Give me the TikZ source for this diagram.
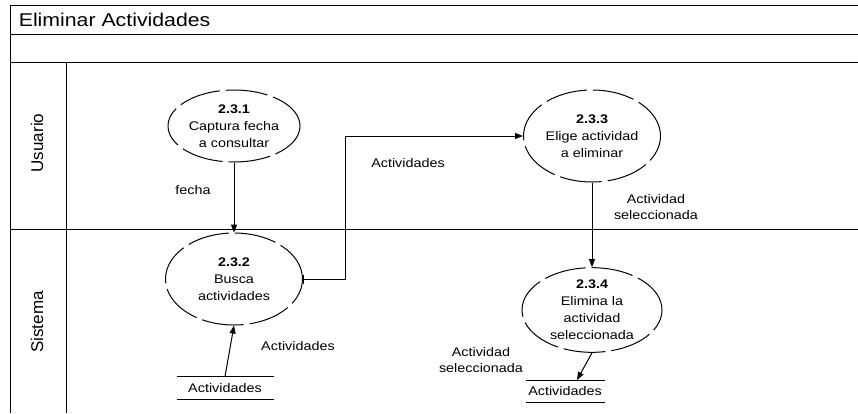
\documentclass[tikz,border=0pt]{standalone}
\usepackage{fontspec}
\setmainfont{Liberation Sans}[FakeStretch=1.15]
\newfontfamily\lanefont{Liberation Sans}
\usetikzlibrary{shapes,arrows.meta}

\begin{document}
\begin{tikzpicture}[x=1pt,y=-1pt,line width=1pt,>={Triangle[length=8pt,width=6pt]}]
\tikzstyle{proceso}=[ellipse,draw,dash pattern=on 42pt off 6pt,inner sep=0pt,align=center,font=\fontsize{12.5}{17}\selectfont]
\tikzstyle{etiqueta}=[align=center,font=\fontsize{12.5}{16}\selectfont]
\tikzstyle{almacen}=[minimum width=96pt,minimum height=22pt,inner sep=0pt,font=\fontsize{12.5}{14}\selectfont]
\tikzstyle{carril}=[rotate=90,font=\lanefont\fontsize{17}{19}\selectfont]
\useasboundingbox (0,0) rectangle (858,413);

% marco y carriles
\draw (10,413) -- (10,5) -- (858,5)
      (10,34) -- (858,34)
      (10,62) -- (858,62)
      (10,229) -- (858,229)
      (66,62) -- (66,413);

\node[font=\fontsize{18.5}{20}\selectfont,anchor=west](titulo) at (15,20) {Eliminar Actividades};
\node[carril](usuario) at (37,143) {Usuario};
\node[carril](sistema) at (37,322) {Sistema};

\node[proceso,minimum width=132pt,minimum height=72pt](p231) at (234,126) {\textbf{2.3.1}\\Captura fecha\\a consultar};
\node[proceso,minimum width=137pt,minimum height=92pt](p232) at (234,279) {\textbf{2.3.2}\\Busca\\actividades};
\node[proceso,minimum width=137pt,minimum height=92pt](p233) at (592,136) {\textbf{2.3.3}\\Elige actividad\\a eliminar};
\node[proceso,minimum width=140pt,minimum height=78pt](p234) at (592,310) {\textbf{2.3.4}\\Elimina la\\actividad\\seleccionada};

\node[almacen](alm1) at (225,388) {Actividades};
\node[almacen,minimum width=78pt,minimum height=21pt](alm2) at (565,391) {Actividades};
\foreach \s in {alm1,alm2}
  \draw (\s.north west) -- (\s.north east) (\s.south west) -- (\s.south east);

\node[etiqueta](lfecha) at (193,190) {fecha};
\node[etiqueta](lact1) at (408,163) {Actividades};
\node[etiqueta](lsel1) at (656,207) {Actividad\\seleccionada};
\node[etiqueta](lact2) at (298,346) {Actividades};
\node[etiqueta](lsel2) at (481,360) {Actividad\\seleccionada};

\coordinate (codo) at (345,279);
\path (p231) edge[->] (p232)
      (p233) edge[->] (p234)
      (alm1.north) edge[->] (p232.south)
      (p234.south) edge[->] ([xshift=12pt]alm2.north);
\draw[{Bar[width=9pt]}->] (p232.east) -- (codo) |- (p233.west);

\end{tikzpicture}
\end{document}
